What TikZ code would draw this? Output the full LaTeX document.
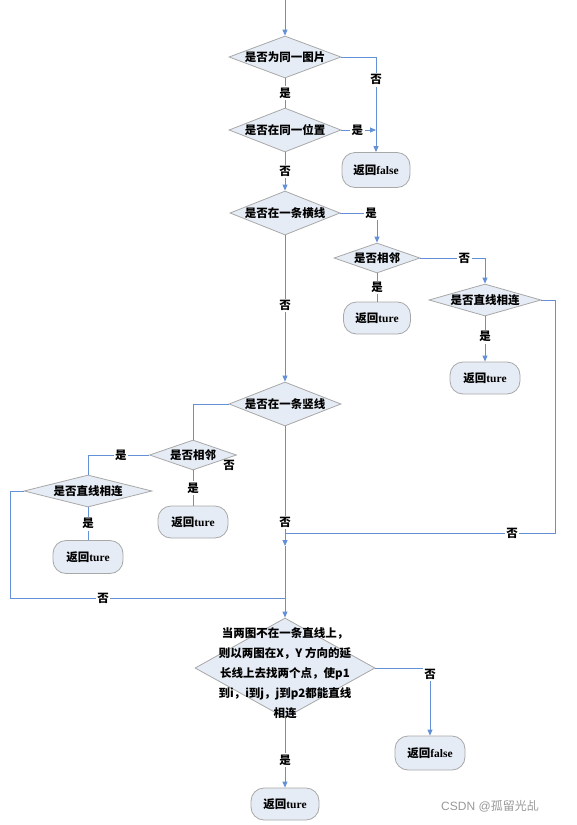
\documentclass[tikz,border=0pt]{standalone}
\usepackage{fontspec}
\setmainfont{Liberation Serif}
\newfontfamily\cjk{Noto Sans CJK SC}
\usetikzlibrary{shapes.geometric,arrows.meta}
\definecolor{lineblue}{HTML}{6390D6}
\definecolor{boxfill}{HTML}{E6ECF5}
\definecolor{boxline}{HTML}{A8A8A8}
\newcommand{\lat}[1]{{\rmfamily\bfseries #1}}
\begin{document}
\begin{tikzpicture}[x=1pt,y=-1pt,
 dia/.style={diamond, draw=boxline, fill=boxfill, inner sep=0pt, line width=0.8pt},
 box/.style={rectangle, rounded corners=13pt, draw=boxline, fill=boxfill, line width=0.8pt, inner sep=0pt, font=\cjk\bfseries\fontsize{11.5}{13}\selectfont},
 txt/.style={font=\cjk\bfseries\fontsize{11.5}{13}\selectfont, inner sep=0pt},
 lab/.style={font=\cjk\bfseries\fontsize{11.5}{13}\selectfont, fill=white, inner sep=1.5pt},
 conn/.style={draw=lineblue, line width=0.9pt},
 arr/.style={conn, -{Triangle[length=6pt,width=5pt]}}
]
\useasboundingbox (0,0) rectangle (576,825);
\fill[white] (0,0) rectangle (576,825);

% nodes
\coordinate (top) at (285,0);
\node[dia,minimum width=112pt,minimum height=42pt] (d1) at (285,57) {};
\node[txt] (t1) at (d1) {是否为同一图片};
\node[dia,minimum width=112pt,minimum height=44pt] (d2) at (285,130) {};
\node[txt] (t2) at (d2) {是否在同一位置};
\node[box,minimum width=68pt,minimum height=35pt] (f1) at (376,170) {返回\lat{false}};
\node[dia,minimum width=110pt,minimum height=44pt] (d3) at (285,213) {};
\node[txt] (t3) at (d3) {是否在一条横线};
\node[dia,minimum width=86pt,minimum height=30pt] (d4) at (377,258) {};
\node[txt] (t4) at (d4) {是否相邻};
\node[dia,minimum width=112pt,minimum height=32pt] (d5) at (485,300) {};
\node[txt] (t5) at (d5) {是否直线相连};
\node[box,minimum width=67pt,minimum height=32pt] (r1) at (377,318) {返回\lat{ture}};
\node[box,minimum width=70pt,minimum height=32pt] (r2) at (485,378) {返回\lat{ture}};
\node[dia,minimum width=112pt,minimum height=44pt] (d6) at (285,404) {};
\node[txt] (t6) at (d6) {是否在一条竖线};
\node[dia,minimum width=87pt,minimum height=30pt] (d7) at (193,455) {};
\node[txt] (t7) at (d7) {是否相邻};
\node[dia,minimum width=128pt,minimum height=32pt] (d8) at (88,491) {};
\node[txt] (t8) at (d8) {是否直线相连};
\node[box,minimum width=70pt,minimum height=33pt] (r3) at (88,557) {返回\lat{ture}};
\node[box,minimum width=70pt,minimum height=32pt] (r4) at (193,522) {返回\lat{ture}};
\node[dia,minimum width=180pt,minimum height=100pt] (d9) at (285,668) {};
\node[txt,align=center,font=\cjk\bfseries\fontsize{11.5}{20}\selectfont] (t9) at (285,673)
 {当两图不在一条直线上，\\则以两图在X，Y 方向的延\\长线上去找两个点，使p1\\到i，i到j，j到p2都能直线\\相连};
\node[box,minimum width=70pt,minimum height=34pt] (f2) at (430,753) {返回\lat{false}};
\node[box,minimum width=68pt,minimum height=32pt] (r5) at (285,804) {返回\lat{ture}};

\coordinate (j1) at (285,533);
\coordinate (a1) at (285,546);
\coordinate (j2) at (285,598);
\coordinate (c5) at (555,300);
\coordinate (c8) at (10,491);

% connectors
\draw[arr] (top) -- (d1.north);
\draw[arr] (d1.east) -| (f1.north) node[lab,pos=0.62] (l1) {否};
\draw[conn] (d1.south) -- (d2.north) node[lab,midway] (l2) {是};
\draw[arr] (d2.east) -- (f1.north |- d2.east) node[lab,pos=0.46] (l3) {是};
\draw[arr] (d2.south) -- (d3.north) node[lab,midway] (l4) {否};
\draw[arr] (d3.east) -| (d4.north) node[lab,pos=0.42] (l5) {是};
\draw[arr] (d4.east) -| (d5.north) node[lab,pos=0.34] (l6) {否};
\draw[conn] (d4.south) -- (r1.north) node[lab,midway] (l7) {是};
\draw[arr] (d5.south) -- (r2.north) node[lab,pos=0.45] (l8) {是};
\draw[conn] (d5.east) -- (c5) |- (j1);
\node[lab] (l9) at (512,533) {否};
\draw[arr] (d3.south) -- (d6.north) node[lab,pos=0.48] (l10) {否};
\draw[conn] (d6.west) -| (d7.north);
\draw[conn] (d7.west) -| (d8.north) node[lab,pos=0.23] (l11) {是};
\node[txt] (l12) at (229,465) {否};
\draw[conn] (d7.south) -- (r4.north) node[lab,midway] (l13) {是};
\draw[conn] (d8.south) -- (r3.north) node[lab,midway] (l14) {是};
\draw[conn] (d8.west) -- (c8) |- (j2);
\node[lab] (l15) at (103,598) {否};
\draw[conn] (d6.south) -- (j1) node[lab,pos=0.9] (l16) {否};
\draw[arr] (j1) -- (a1);
\draw[conn] (a1) -- (j2);
\draw[arr] (j2) -- (d9.north);
\draw[arr] (d9.east) -| (f2.north) node[lab,pos=0.55] (l17) {否};
\draw[arr] (d9.south) -- (r5.north) node[lab,pos=0.6] (l18) {是};

\node[text=gray!80] (wm) at (490,806) {\fontspec{Liberation Sans}\fontsize{12}{14}\selectfont CSDN @\cjk 孤留光乩};
\end{tikzpicture}
\end{document}
